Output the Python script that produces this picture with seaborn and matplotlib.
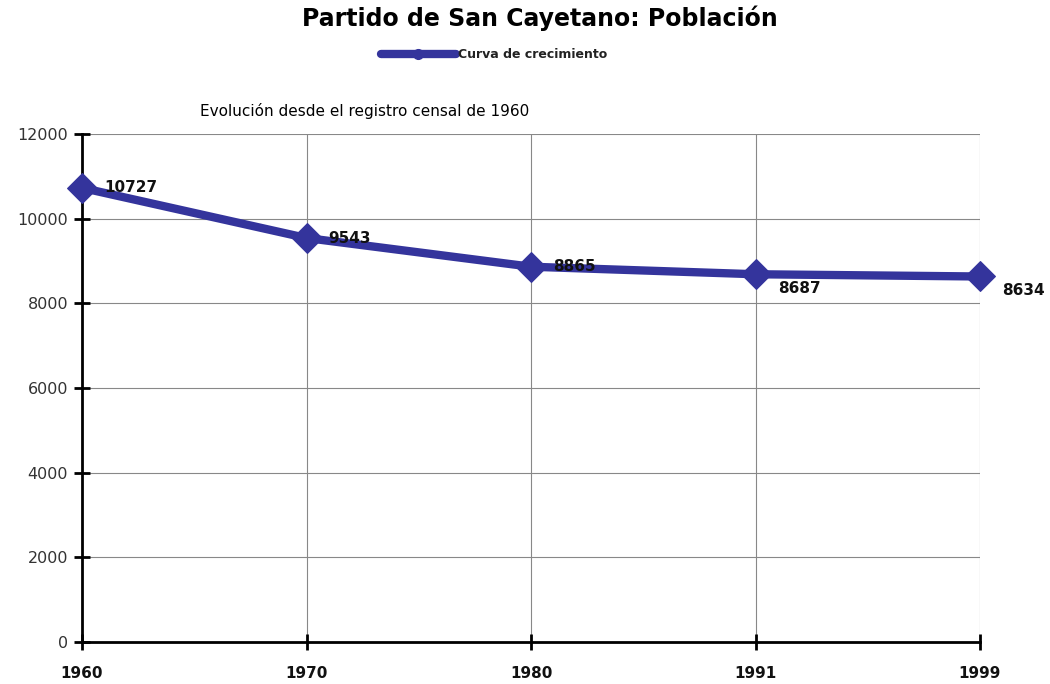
import pandas as pd
import seaborn as sns
import matplotlib.pyplot as plt
from matplotlib.lines import Line2D

anios = ["1960", "1970", "1980", "1991", "1999"]
poblacion = [10727, 9543, 8865, 8687, 8634]
# desplazamiento vertical de cada etiqueta (en puntos)
desplaz_y = [0, 0, 0, -10, -10]

datos = pd.DataFrame({"anio": anios, "poblacion": poblacion})

sns.set_style("white")
plt.rcParams["font.family"] = ["DejaVu Sans"]

fig = plt.figure(figsize=(10.5, 6.84), dpi=100)
ax = fig.add_axes([82 / 1050, 42 / 684, 898 / 1050, 508 / 684])

color = "#34349c"
sns.lineplot(data=datos, x="anio", y="poblacion", sort=False, ax=ax,
             color=color, linewidth=6, marker="D", markersize=15,
             markeredgecolor=color, legend=False, zorder=3)
for l in ax.lines:
    l.set_clip_on(False)

for i, (a, p) in enumerate(zip(anios, poblacion)):
    ax.annotate(str(p), (i, p), xytext=(16, desplaz_y[i]), textcoords="offset points",
                ha="left", va="center", fontsize=11, fontweight="bold", color="#111111")

ax.set_xlim(0, 4)
ax.set_ylim(0, 12000)
ax.set_yticks(range(0, 12001, 2000))
ax.set_xlabel("")
ax.set_ylabel("")
ax.grid(True, color="#888888", linewidth=0.8)
for s in ["top", "right"]:
    ax.spines[s].set_visible(False)
for s in ["left", "bottom"]:
    ax.spines[s].set_color("black")
    ax.spines[s].set_linewidth(2)
ax.tick_params(axis="both", direction="inout", length=12, width=2, color="black",
               bottom=True, left=True)
ax.tick_params(axis="y", labelsize=11.5, labelcolor="#333333", pad=4)
ax.tick_params(axis="x", labelsize=11, labelcolor="#111111", pad=11)
for t in ax.get_xticklabels():
    t.set_fontweight("bold")

handle = Line2D([], [], color=color, linewidth=6, marker="o", markersize=7)
leg = fig.legend(handles=[handle], labels=["Curva de crecimiento"], loc="center",
                 bbox_to_anchor=(494 / 1050, 1 - 55 / 684), frameon=False, fontsize=9,
                 handlelength=6, handletextpad=0.2)
for t in leg.get_texts():
    t.set_fontweight("bold")
    t.set_color("#222222")

fig.text(540 / 1050, 1 - 18 / 684, "Partido de San Cayetano: Población", ha="center", va="center",
         fontsize=17, fontweight="bold", color="black")
fig.text(200 / 1050, 1 - 111 / 684, "Evolución desde el registro censal de 1960", ha="left", va="center",
         fontsize=11, color="black")

fig.savefig("out.png", dpi=100)
